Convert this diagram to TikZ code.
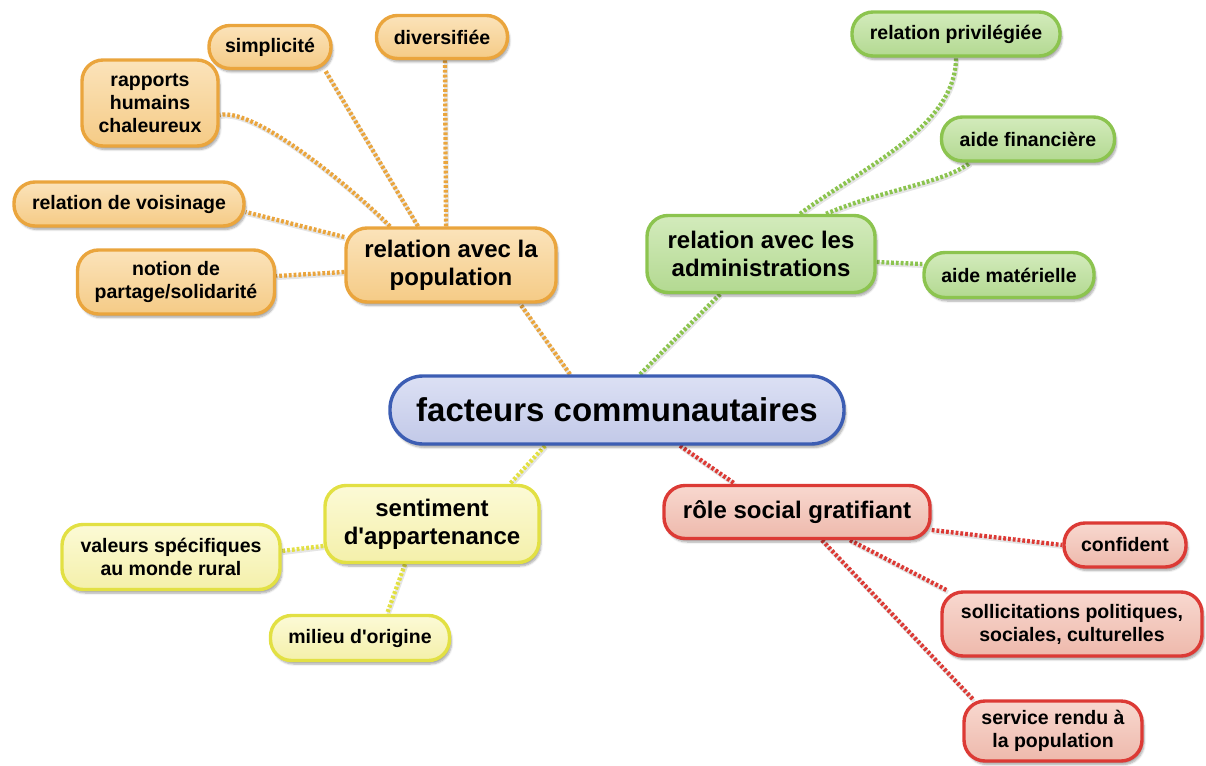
\documentclass[tikz,border=0pt]{standalone}
\usepackage{fontspec}
\setmainfont{Liberation Sans}
\usetikzlibrary{shadows,shadows.blur,backgrounds}
\definecolor{orB}{HTML}{EAA53D}\definecolor{orT}{HTML}{FBE3BA}\definecolor{orF}{HTML}{F5CB86}
\definecolor{grB}{HTML}{8CC44F}\definecolor{grT}{HTML}{D3EBBC}\definecolor{grF}{HTML}{B3D991}
\definecolor{yeB}{HTML}{E2E043}\definecolor{yeT}{HTML}{FCFAD6}\definecolor{yeF}{HTML}{F4F0AA}
\definecolor{reB}{HTML}{DC3A35}\definecolor{reT}{HTML}{F8D8CF}\definecolor{reF}{HTML}{EEB9AC}
\definecolor{blB}{HTML}{3C5DB3}\definecolor{blT}{HTML}{DCE0F4}\definecolor{blF}{HTML}{C2C9E8}
\tikzset{
  box/.style={draw, line width=3.4pt, rounded corners=21pt, align=center, inner sep=2pt,
    font=\bfseries\fontsize{19.5}{23}\selectfont,
    blur shadow={shadow blur steps=6, shadow xshift=2pt, shadow yshift=-3.5pt, shadow opacity=35}},
  bigtext/.style={font=\bfseries\fontsize{24}{28}\selectfont},
  orbox/.style={box, draw=orB, top color=orT, bottom color=orF},
  grbox/.style={box, draw=grB, top color=grT, bottom color=grF},
  yebox/.style={box, draw=yeB, top color=yeT, bottom color=yeF},
  rebox/.style={box, draw=reB, top color=reT, bottom color=reF},
  link/.style={line width=4.3pt, dash pattern=on 2.8pt off 2pt,
    preaction={draw=black, opacity=0.10, line width=4pt, solid, transform canvas={shift={(1pt,-2pt)}}}},
  orlink/.style={link, draw=orB},
  grlink/.style={link, draw=grB},
  yelink/.style={link, draw=yeB},
  relink/.style={link, draw=reB},
}
\begin{document}
\begin{tikzpicture}[x=1pt,y=-1pt]
\useasboundingbox (0,0) rectangle (1206,765);
% central
\node[box, draw=blB, top color=blT, bottom color=blF, rounded corners=33pt,
  font=\bfseries\fontsize{33}{38}\selectfont, minimum width=454pt, minimum height=68pt] (cen) at (617,410) {facteurs communautaires};
% orange branch
\node[orbox, bigtext, minimum width=210pt, minimum height=74pt] (pop) at (451,265) {relation avec la\\population};
\node[orbox, minimum width=122pt, minimum height=43pt] (simp) at (270,47) {simplicité};
\node[orbox, minimum width=131pt, minimum height=43pt] (div) at (442,37) {diversifiée};
\node[orbox, minimum width=136pt, minimum height=86pt] (rap) at (150,103) {rapports\\humains\\chaleureux};
\node[orbox, minimum width=230pt, minimum height=44pt] (vois) at (129,204) {relation de voisinage};
\node[orbox, minimum width=197pt, minimum height=64pt] (notion) at (176,282) {notion de\\partage/solidarité};
% green branch
\node[grbox, bigtext, minimum width=228pt, minimum height=77pt] (adm) at (761,254) {relation avec les\\administrations};
\node[grbox, minimum width=208pt, minimum height=44pt] (priv) at (956,34) {relation privilégiée};
\node[grbox, minimum width=173pt, minimum height=44pt] (fin) at (1028,139) {aide financière};
\node[grbox, minimum width=170pt, minimum height=45pt] (mat) at (1009,275) {aide matérielle};
% yellow branch
\node[yebox, bigtext, minimum width=214pt, minimum height=77pt] (sent) at (432,524) {sentiment\\d\textquotesingle appartenance};
\node[yebox, minimum width=218pt, minimum height=65pt] (val) at (171,557) {valeurs spécifiques\\au monde rural};
\node[yebox, minimum width=179pt, minimum height=45pt] (mil) at (360,638) {milieu d\textquotesingle origine};
% red branch
\node[rebox, bigtext, minimum width=266pt, minimum height=53pt] (role) at (797,512) {rôle social gratifiant};
\node[rebox, minimum width=122pt, minimum height=44pt] (conf) at (1125,545) {confident};
\node[rebox, minimum width=260pt, minimum height=64pt] (sol) at (1072,624) {sollicitations politiques,\\sociales, culturelles};
\node[rebox, minimum width=178pt, minimum height=60pt] (serv) at (1053,731) {service rendu à\\la population};
% connectors
\begin{scope}[on background layer]
\draw[orlink] ([xshift=-47pt]cen.north) -- ([xshift=69pt]pop.south);
\draw[grlink] ([xshift=23pt]cen.north) -- ([xshift=-41pt]adm.south);
\draw[yelink] ([xshift=-72pt]cen.south) -- ([xshift=78pt]sent.north);
\draw[relink] ([xshift=63pt]cen.south) -- ([xshift=-62pt]role.north);
\draw[orlink] ([xshift=-33pt]pop.north) -- ([xshift=55pt]simp.south);
\draw[orlink] ([xshift=-5pt]pop.north) -- ([xshift=3pt]div.south);
\draw[orlink] ([xshift=-61pt]pop.north) .. controls +(-40,-40) and +(35,-8) .. ([yshift=-12pt]rap.east);
\draw[orlink] ([yshift=28pt]pop.west) -- ([yshift=-8pt]vois.east);
\draw[orlink] ([yshift=-7pt]pop.west) -- ([yshift=6pt]notion.east);
\draw[grlink] ([xshift=39pt]adm.north) .. controls +(60,-45) and +(0,70) .. (priv.south);
\draw[grlink] ([xshift=65pt]adm.north) .. controls +(60,-25) and +(-25,20) .. ([xshift=-58pt]fin.south);
\draw[grlink] ([yshift=-8pt]adm.east) -- ([yshift=11pt]mat.west);
\draw[yelink] ([yshift=-22pt]sent.west) -- ([yshift=6pt]val.east);
\draw[yelink] ([xshift=-27pt]sent.south) -- ([xshift=27pt]mil.north);
\draw[relink] ([yshift=-18pt]role.east) -- (conf.west);
\draw[relink] ([xshift=53pt]role.south) -- ([xshift=-125pt]sol.north);
\draw[relink] ([xshift=25pt]role.south) -- ([xshift=-80pt]serv.north);
\end{scope}
\end{tikzpicture}
\end{document}
